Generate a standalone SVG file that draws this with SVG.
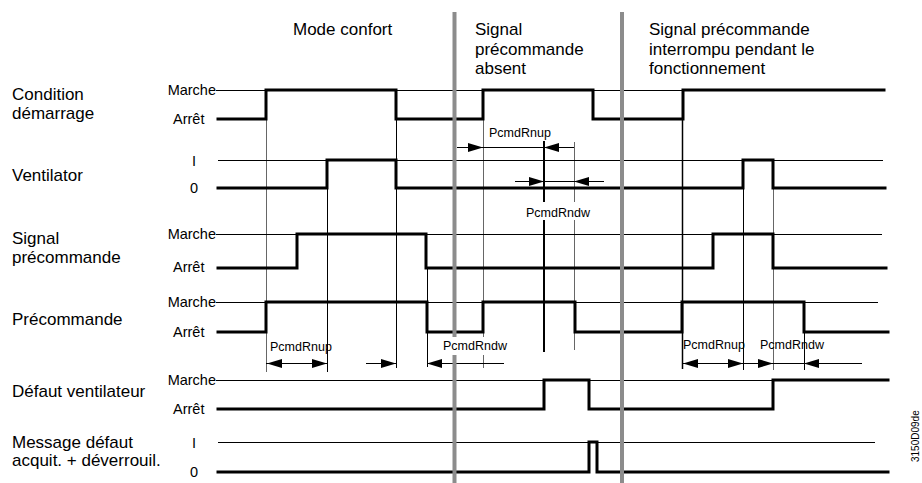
<svg xmlns="http://www.w3.org/2000/svg" xmlns:xlink="http://www.w3.org/1999/xlink" width="922" height="483" viewBox="0 0 922 483">
<style>
text{font-family:"Liberation Sans",Arial,sans-serif;fill:#000}
.big{font-size:17px}
.lv{font-size:14.5px}
.dl{font-size:12.5px}
.sig{fill:none;stroke:#000;stroke-width:3;stroke-linejoin:miter;stroke-linecap:square}
.ref{fill:none;stroke:#000;stroke-width:1}
.vl{fill:none;stroke:#000;stroke-width:1}
.vg{fill:none;stroke:#666;stroke-width:1}
.dim{fill:none;stroke:#000;stroke-width:1}
.bar{fill:none;stroke:#8c8c8c;stroke-width:4}
</style>
<defs>
<path id="ahR" d="M0,0 L-15,-4.5 L-15,4.5 Z" fill="#000"/>
<path id="ahL" d="M0,0 L15,-4.5 L15,4.5 Z" fill="#000"/>
</defs>
<rect width="922" height="483" fill="#fff"/>

<g id="headers">
<text class="big" x="293" y="35">Mode confort</text>
<text class="big" x="475" y="35">Signal</text>
<text class="big" x="475" y="54.5">précommande</text>
<text class="big" x="475" y="74">absent</text>
<text class="big" x="649" y="35">Signal précommande</text>
<text class="big" x="649" y="54.5">interrompu pendant le</text>
<text class="big" x="649" y="74">fonctionnement</text>
</g>

<g id="connectors">
<path class="vg" d="M266.5,119 V372"/>
<path class="vl" d="M327.5,188 V372"/>
<path class="vl" d="M396.5,119 V368"/>
<path class="vl" d="M427.5,268 V367"/>
<path class="vg" d="M483.5,119 V337 M483.5,355 V368"/>
<path class="vl" style="stroke-width:2" d="M544,141 V352"/>
<path class="vg" d="M574.5,142 V350"/>
<path class="vl" style="stroke-width:1.5" d="M682.5,119 V369"/>
<path class="vl" d="M743.5,188 V370"/>
<path class="vg" d="M773.5,160 V370"/>
<path class="vl" d="M804.5,332 V370"/>
<path class="dim" d="M457,147.5 H574 M515,181.5 H604 M266,363.5 H327 M366,363.5 H396 M427,363.5 H504 M683,363.5 H862"/>
<use xlink:href="#ahR" x="483" y="147.5"/>
<use xlink:href="#ahL" x="544" y="147.5"/>
<use xlink:href="#ahR" x="544" y="181.5"/>
<use xlink:href="#ahL" x="574" y="181.5"/>
<use xlink:href="#ahL" x="267" y="363.5"/>
<use xlink:href="#ahR" x="327" y="363.5"/>
<use xlink:href="#ahR" x="396" y="363.5"/>
<use xlink:href="#ahL" x="427" y="363.5"/>
<use xlink:href="#ahL" x="683" y="363.5"/>
<use xlink:href="#ahR" x="743" y="363.5"/>
<use xlink:href="#ahR" x="773" y="363.5"/>
<use xlink:href="#ahL" x="804" y="363.5"/>
</g>

<g id="condition-demarrage">
<text class="big" x="12" y="100">Condition</text>
<text class="big" x="12" y="118.5">démarrage</text>
<text class="lv" x="216" y="94.5" text-anchor="end">Marche</text>
<text class="lv" x="173" y="123.5">Arrêt</text>
<path class="ref" d="M216,90.5 H885"/>
<path class="sig" d="M218,119 H266 V90 H396 V119 H483 V90 H593 V119 H683 V90 H884"/>
</g>

<g id="ventilator">
<text class="big" x="12" y="180.5">Ventilator</text>
<text class="lv" x="194" y="165.5" text-anchor="middle">I</text>
<text class="lv" x="194" y="193" text-anchor="middle">0</text>
<path class="ref" d="M218,160.5 H883"/>
<path class="sig" d="M218,188 H327 V160 H396 V188 H743 V160 H773 V188 H885"/>
</g>

<g id="signal-precommande">
<text class="big" x="12" y="244">Signal</text>
<text class="big" x="12" y="262.5">précommande</text>
<text class="lv" x="216" y="238.5" text-anchor="end">Marche</text>
<text class="lv" x="173" y="272">Arrêt</text>
<path class="ref" d="M216,234.5 H882"/>
<path class="sig" d="M218,268 H297 V234 H426 V268 H713 V234 H773 V268 H886"/>
</g>

<g id="precommande">
<text class="big" x="12" y="324.5">Précommande</text>
<text class="lv" x="216" y="306.5" text-anchor="end">Marche</text>
<text class="lv" x="173" y="336.5">Arrêt</text>
<path class="ref" d="M216,302.5 H878"/>
<path class="sig" d="M218,332 H266 V302 H427 V332 H483 V302 H575 V332 H682 V302 H804 V332 H888"/>
</g>

<g id="defaut-ventilateur">
<text class="big" x="12" y="396.5">Défaut ventilateur</text>
<text class="lv" x="216" y="384.5" text-anchor="end">Marche</text>
<text class="lv" x="173" y="413.5">Arrêt</text>
<path class="ref" d="M216,380.5 H885"/>
<path class="sig" d="M218,409 H544 V380 H589 V409 H773 V380 H888"/>
</g>

<g id="message-defaut">
<text class="big" x="12" y="447.5">Message défaut</text>
<text class="big" x="12" y="466">acquit. + déverrouil.</text>
<text class="lv" x="194" y="447.5" text-anchor="middle">I</text>
<text class="lv" x="194" y="477" text-anchor="middle">0</text>
<path class="ref" d="M218,442.5 H875"/>
<path class="sig" d="M218,472 H589 V442 H597 V472 H888"/>
</g>

<g id="phase-separators">
<path class="bar" d="M454.5,12 V483"/>
<path class="bar" d="M622,12 V483"/>
</g>

<g id="dimension-labels">
<text class="dl" x="489" y="137">PcmdRnup</text>
<rect x="524" y="202" width="66" height="18" fill="#fff"/>
<text class="dl" x="526" y="216.5">PcmdRndw</text>
<text class="dl" x="270" y="350.5">PcmdRnup</text>
<rect x="441" y="337" width="67" height="18" fill="#fff"/>
<text class="dl" x="443" y="350">PcmdRndw</text>
<text class="dl" x="683" y="349">PcmdRnup</text>
<text class="dl" x="760" y="349">PcmdRndw</text>
</g>

<text x="919" y="462" font-size="10" fill="#333" transform="rotate(-90 919 462)">3150D09de</text>
</svg>
